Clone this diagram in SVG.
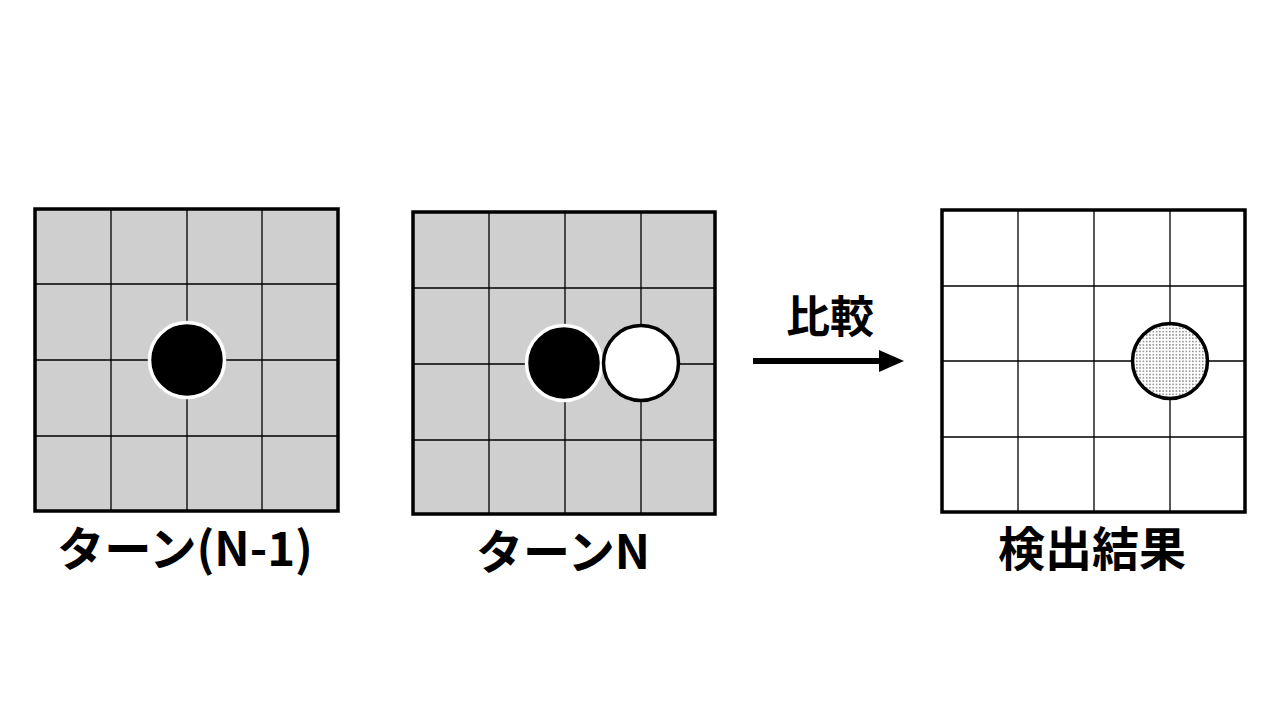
<svg xmlns="http://www.w3.org/2000/svg" width="1280" height="720" viewBox="0 0 1280 720">
<defs>
<pattern id="dots" width="3.3" height="3.3" patternUnits="userSpaceOnUse">
<rect width="3.3" height="3.3" fill="#fff"/>
<circle cx="1.6" cy="1.6" r="0.6" fill="#000"/>
</pattern>
</defs>
<style>
.board{stroke:#000;stroke-width:3.5}
.grid{stroke:#000;stroke-width:1.3;fill:none}
.lbl{font-family:"Noto Sans CJK JP","Noto Sans",sans-serif;font-weight:bold;fill:#000;text-anchor:middle}
</style>
<rect width="1280" height="720" fill="#fff"/>
<g id="board1">
<rect class="board" x="35" y="209" width="303" height="302" fill="#d0cfd0"/>
<path class="grid" d="M111,209V511M187,209V511M262,209V511M35,284H338M35,360H338M35,436H338"/>
<circle cx="187" cy="360" r="37.5" fill="#000" stroke="#fff" stroke-width="3.5"/>
<text class="lbl" x="185" y="566" font-size="47" textLength="256" lengthAdjust="spacingAndGlyphs">ターン(N-1)</text>
</g>
<g id="board2">
<rect class="board" x="413" y="212" width="302" height="302" fill="#d0cfd0"/>
<path class="grid" d="M489,212V514M565,212V514M641,212V514M413,288H715M413,364H715M413,440H715"/>
<circle cx="564" cy="363" r="37.5" fill="#000" stroke="#fff" stroke-width="3.5"/>
<circle cx="641" cy="363" r="37.5" fill="#fff" stroke="#000" stroke-width="3.5"/>
<text class="lbl" x="563" y="569" font-size="47">ターンN</text>
</g>
<g id="board3">
<rect class="board" x="942" y="210" width="303" height="302" fill="#fff"/>
<path class="grid" d="M1018,210V512M1094,210V512M1170,210V512M942,286H1245M942,361H1245M942,437H1245"/>
<circle cx="1170" cy="361" r="37.5" fill="url(#dots)" stroke="#000" stroke-width="3.5"/>
<text class="lbl" x="1092" y="566" font-size="47">検出結果</text>
</g>
<g id="connectors">
<line x1="753" y1="361" x2="880" y2="361" stroke="#000" stroke-width="6"/>
<path d="M879,350 L904,361 L879,372 Z" fill="#000"/>
<text class="lbl" x="830" y="333" font-size="44">比較</text>
</g>
</svg>
